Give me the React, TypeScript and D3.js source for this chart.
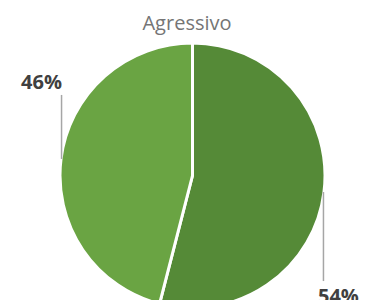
import React, { useEffect, useRef } from "react";
import * as d3 from "d3";

const categories = ["Sim", "Não"];
const values = [54, 46];
const labels = ["54%", "46%"];
const colors = ["#558A37", "#6AA443"];
const title = "Agressivo";

const App: React.FC = () => {
  const ref = useRef<SVGSVGElement>(null);

  useEffect(() => {
    if (!ref.current) return;
    const width = 365;
    const height = 300;
    const cx = 192.5;
    const cy = 175.5;
    const radius = 132.5;

    const svg = d3.select(ref.current);
    svg.selectAll("*").remove();

    svg
      .append("text")
      .attr("x", 187)
      .attr("y", 30)
      .attr("text-anchor", "middle")
      .attr("font-family", "Open Sans, sans-serif")
      .attr("font-size", 20)
      .attr("fill", "#757575")
      .text(title);

    const g = svg.append("g").attr("transform", `translate(${cx},${cy})`);

    const pie = d3
      .pie<number>()
      .sort(null)
      .value((d) => d);
    const arcs = pie(values);
    const arc = d3.arc<d3.PieArcDatum<number>>().innerRadius(0).outerRadius(radius);

    g.selectAll("path")
      .data(arcs)
      .enter()
      .append("path")
      .attr("d", arc)
      .attr("fill", (_, i) => colors[i])
      .attr("stroke", "#ffffff")
      .attr("stroke-width", 3)
      .attr("stroke-linejoin", "round");

    // leader lines go vertically from the slice edge to the label
    const leader = [89, 64];
    arcs.forEach((a, i) => {
      const mid = (a.startAngle + a.endAngle) / 2;
      const x = Math.sin(mid) * (radius - 0.5);
      const y = -Math.cos(mid) * (radius - 0.5);
      const dir = y >= 0 ? 1 : -1;
      const y2 = y + dir * leader[i];
      g.append("line")
        .attr("x1", x)
        .attr("y1", y)
        .attr("x2", x)
        .attr("y2", y2)
        .attr("stroke", "#a6a6a6")
        .attr("stroke-width", 1.5);
      const lx = x + (x > 0 ? 15 : -20);
      g.append("text")
        .attr("x", lx)
        .attr("y", dir > 0 ? y2 + 22 : y2 - 6)
        .attr("text-anchor", "middle")
        .attr("font-family", "Open Sans, sans-serif")
        .attr("font-weight", "bold")
        .attr("font-size", 20)
        .attr("fill", "#404040")
        .text(labels[i]);
    });
  }, []);

  return (
    <svg
      ref={ref}
      width={365}
      height={300}
      style={{ position: "absolute", left: 0, top: 0, background: "#fff" }}
      aria-label={categories.join(", ")}
    />
  );
};

export default App;
